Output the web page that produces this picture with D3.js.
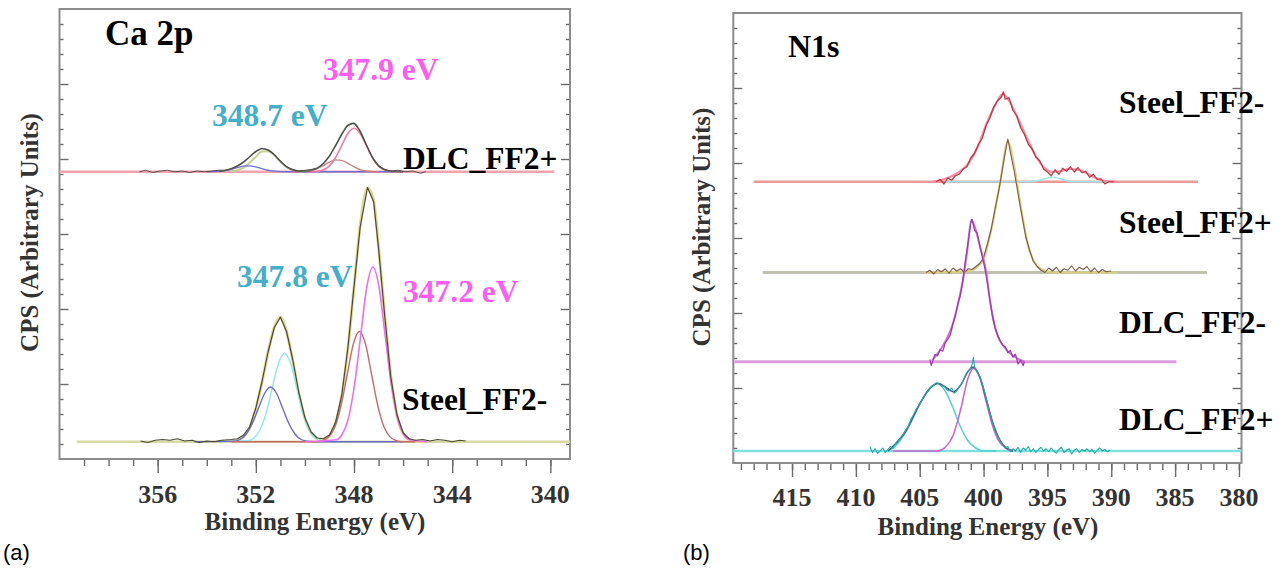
<!DOCTYPE html>
<html><head><meta charset="utf-8">
<script src="https://cdn.jsdelivr.net/npm/d3@7"></script>
<style>
body{margin:0;background:#fff;}
</style></head><body>
<svg id="chart" width="1285" height="573"></svg>
<script>
// ================= DATA =================
// Panel (a): Ca 2p
const caXMajor = [356, 352, 348, 344, 340];
const caXMinor = [359,358,357,356,355,354,353,352,351,350,349,348,347,346,345,344,343,342,341,340];
const yMajor = [1, 2, 3, 4, 5];
const yMinor = [0.2,0.4,0.6,0.8,1.2,1.4,1.6,1.8,2.2,2.4,2.6,2.8,3.2,3.4,3.6,3.8,4.2,4.4,4.6,4.8,5.2,5.4,5.6,5.8];

const caDlcOffset = 3.83;
const caSteelOffset = 0.23;
const caDlcBaseRange = [360, 339.84];
const caSteelBaseRange = [359.3, 339.2];

// DLC_FF2+ (Ca 2p) – fitted components and envelope (intensity above baseline)
const caDlcBlue = [[354.0,0],[353.5,.005],[353.25,.015],[353.0,.033],[352.75,.056],[352.5,.076],[352.25,.079],[352.0,.064],[351.75,.041],[351.5,.02],[351.25,.008],[351.0,.002],[350.5,0],[346.0,0]];
const caDlcOlive = [[353.0,.006],[352.75,.02],[352.5,.055],[352.25,.12],[352.0,.20],[351.75,.27],[351.5,.274],[351.25,.22],[351.0,.136],[350.75,.066],[350.5,.025],[350.25,.007],[350.0,0]];
const caDlcRed = [[350.5,0],[350.0,.005],[349.75,.016],[349.5,.04],[349.25,.082],[349.0,.129],[348.75,.158],[348.5,.151],[348.25,.112],[348.0,.065],[347.75,.029],[347.5,.01],[347.25,.003],[347.0,0]];
const caDlcPink = [[350.0,0],[349.5,.006],[349.25,.026],[349.0,.078],[348.75,.19],[348.5,.35],[348.25,.51],[348.0,.58],[347.75,.51],[347.5,.35],[347.25,.19],[347.0,.078],[346.75,.026],[346.5,.006],[346.0,0]];
const caDlcEnv = [[353.5,.005],[353.25,.016],[353.0,.04],[352.75,.076],[352.5,.13],[352.25,.20],[352.0,.27],[351.75,.31],[351.5,.29],[351.25,.23],[351.0,.14],[350.75,.066],[350.5,.025],[350.25,.007],[350.0,.005],[349.75,.018],[349.5,.046],[349.25,.11],[349.0,.21],[348.75,.35],[348.5,.50],[348.25,.62],[348.0,.645],[347.75,.54],[347.5,.36],[347.25,.19],[347.0,.078],[346.75,.026],[346.5,.006],[346.0,0]];
const caDlcData = [[356.75,0],[356.5,.02],[356.2,-.01],[355.9,.01],[355.6,.02],[355.3,0],[355.0,.01],[354.7,-.01],[354.4,.01],[354.1,0],[353.8,.01],[353.5,.02],[353.25,.02],[353.0,.04],[352.75,.08],[352.5,.13],[352.25,.2],[352.0,.27],[351.75,.31],[351.5,.29],[351.25,.23],[351.0,.14],[350.75,.07],[350.5,.03],[350.25,.01],[350.0,.02],[349.75,.03],[349.5,.05],[349.25,.11],[349.0,.21],[348.75,.35],[348.5,.5],[348.25,.62],[348.0,.65],[347.75,.54],[347.5,.36],[347.25,.19],[347.0,.08],[346.75,.03],[346.5,.01],[346.2,.02],[345.9,0],[345.6,.01],[345.3,-.02],[345.07,0]];

// Steel_FF2- (Ca 2p)
const caSteelCyan = [[353.5,0],[352.33,.013],[352.08,.05],[351.83,.16],[351.58,.38],[351.33,.72],[351.08,1.04],[350.83,1.18],[350.58,1.04],[350.33,.72],[350.08,.38],[349.83,.16],[349.58,.05],[349.33,.013],[348.5,0]];
const caSteelBlue = [[354.5,0],[352.9,.008],[352.65,.03],[352.4,.10],[352.15,.24],[351.9,.44],[351.65,.64],[351.4,.73],[351.15,.64],[350.9,.44],[350.65,.24],[350.4,.10],[350.15,.03],[349.9,.008],[349.5,0],[346.0,0]];
const caSteelRed = [[353.0,0],[349.5,0],[349.28,.016],[349.03,.065],[348.78,.20],[348.53,.48],[348.28,.89],[348.03,1.30],[347.78,1.47],[347.53,1.30],[347.28,.89],[347.03,.48],[346.78,.20],[346.53,.065],[346.28,.016],[346.0,0],[345.5,0]];
const caSteelMag = [[350.0,0],[348.73,.026],[348.48,.10],[348.23,.31],[347.98,.76],[347.73,1.41],[347.48,2.06],[347.23,2.33],[346.98,2.06],[346.73,1.41],[346.48,.76],[346.23,.31],[345.98,.10],[345.73,.026],[345.0,0]];
const caSteelEnv = [[353.5,0],[353.0,.005],[352.75,.02],[352.5,.07],[352.25,.19],[352.0,.44],[351.75,.79],[351.5,1.20],[351.25,1.53],[351.0,1.66],[350.75,1.47],[350.5,1.09],[350.25,.65],[350.0,.31],[349.75,.12],[349.5,.04],[349.25,.03],[349.0,.08],[348.75,.25],[348.5,.61],[348.25,1.24],[348.0,2.06],[347.75,2.88],[347.45,3.38],[347.2,3.22],[347.0,2.6],[346.75,1.7],[346.5,.88],[346.25,.36],[346.0,.11],[345.75,.03],[345.5,.006],[345.0,0]];
const caSteelData = [[356.7,.01],[356.4,-.01],[356.1,.02],[355.8,.03],[355.5,.02],[355.2,.04],[354.9,.01],[354.6,.02],[354.3,-.01],[354.0,.01],[353.7,0],[353.4,.02],[353.0,.03],[352.75,.04],[352.5,.09],[352.25,.2],[352.0,.45],[351.75,.8],[351.5,1.2],[351.25,1.52],[351.0,1.66],[350.75,1.47],[350.5,1.1],[350.25,.66],[350.0,.32],[349.75,.13],[349.5,.05],[349.25,.04],[349.0,.09],[348.75,.26],[348.5,.62],[348.25,1.25],[348.0,2.07],[347.75,2.86],[347.45,3.39],[347.2,3.2],[347.0,2.58],[346.75,1.68],[346.5,.86],[346.25,.36],[346.0,.12],[345.75,.04],[345.5,.02],[345.2,.03],[344.9,.01],[344.6,.03],[344.3,.02],[344.0,0],[343.7,.02],[343.45,.01]];

// Panel (b): N1s
const nXMajor = [415, 410, 405, 400, 395, 390, 385, 380];
const nXMinor = [419,418,417,416,415,414,413,412,411,410,409,408,407,406,405,404,403,402,401,400,399,398,397,396,395,394,393,392,391,390,389,388,387,386,385,384,383,382,381,380];

const nSteelMinusOffset = 3.75;
const nSteelPlusOffset = 2.54;
const nDlcMinusOffset = 1.35;
const nDlcPlusOffset = 0.16;
const nSteelMinusBaseRange = [418.0, 383.2];
const nSteelPlusBaseRange = [417.3, 382.5];
const nDlcMinusBaseRange = [419.5, 384.9];
const nDlcPlusBaseRange = [419.6, 379.8];

const nSteelMinusEnv = [[404.0,0],[403.0,.04],[402.0,.12],[401.3,.22],[400.5,.45],[399.7,.80],[399.0,1.05],[398.5,1.17],[398.0,1.08],[397.3,.84],[396.6,.58],[395.9,.34],[395.2,.18],[394.6,.13],[394.0,.14],[393.3,.17],[392.6,.16],[391.9,.11],[391.2,.05],[390.5,.01],[389.5,0]];
const nSteelMinusCyan = [[403.0,0],[396.5,0],[395.6,.02],[395.0,.05],[394.6,.06],[394.2,.05],[393.6,.02],[393.0,0],[390.0,0]];
const nSteelMinusData = [[403.7,0],[403.4,.03],[403.1,-.03],[402.8,.05],[402.5,.02],[402.2,.08],[401.9,.1],[401.6,.17],[401.3,.2],[401.0,.32],[400.7,.38],[400.4,.5],[400.1,.58],[399.8,.75],[399.5,.85],[399.2,1.0],[398.9,1.08],[398.6,1.13],[398.45,1.2],[398.3,1.1],[398.0,1.12],[397.7,.95],[397.4,.88],[397.1,.72],[396.8,.63],[396.5,.5],[396.2,.44],[395.9,.33],[395.6,.28],[395.3,.17],[395.0,.13],[394.7,.08],[394.4,.16],[394.1,.1],[393.8,.18],[393.5,.14],[393.2,.2],[392.9,.13],[392.6,.19],[392.3,.12],[392.0,.14],[391.7,.06],[391.4,.1],[391.1,.03],[390.8,.04],[390.5,-.03],[390.2,0],[389.8,0]];

const nSteelPlusEnv = [[404.5,0],[401.0,.02],[400.6,.06],[400.0,.18],[399.4,.57],[398.7,1.2],[398.1,1.75],[397.55,1.37],[397.0,.79],[396.5,.35],[396.0,.13],[395.3,.03],[394.5,0],[389.5,0]];
const nSteelPlusData = [[404.5,0],[404.2,.03],[403.9,-.02],[403.6,.04],[403.3,.01],[403.0,.05],[402.7,-.01],[402.4,.06],[402.1,.02],[401.8,.05],[401.5,0],[401.2,.05],[400.9,.04],[400.6,.08],[400.3,.12],[400.0,.2],[399.7,.38],[399.4,.58],[399.1,.85],[398.8,1.1],[398.5,1.4],[398.3,1.6],[398.1,1.78],[397.9,1.6],[397.6,1.35],[397.3,1.05],[397.0,.76],[396.7,.48],[396.4,.3],[396.1,.15],[395.8,.08],[395.5,.03],[395.2,0],[394.9,.06],[394.6,.02],[394.3,.07],[394.0,0],[393.7,.05],[393.4,.03],[393.1,.09],[392.8,.02],[392.5,.07],[392.2,.04],[391.9,.08],[391.6,.01],[391.3,.06],[391.0,0],[390.7,.04],[390.4,.01],[390.0,.02]];

const nDlcMinusEnv = [[404.0,.02],[403.4,.16],[402.9,.30],[402.4,.51],[401.9,.85],[401.6,1.1],[401.3,1.45],[400.95,1.89],[400.6,1.75],[400.3,1.55],[399.8,1.2],[399.5,.82],[399.0,.40],[398.2,.16],[397.2,.03],[396.8,0]];
const nDlcMinusData = [[404.2,.03],[404.1,-.05],[404.0,0],[403.8,.1],[403.6,.08],[403.4,.16],[403.2,.14],[403.0,.25],[402.8,.3],[402.6,.36],[402.4,.5],[402.2,.62],[402.0,.78],[401.8,.9],[401.6,1.12],[401.4,1.38],[401.2,1.6],[401.0,1.85],[400.9,1.9],[400.7,1.75],[400.5,1.72],[400.3,1.55],[400.1,1.4],[399.9,1.25],[399.7,1.05],[399.5,.82],[399.3,.6],[399.1,.45],[398.9,.36],[398.7,.28],[398.5,.22],[398.3,.2],[398.1,.12],[397.9,.15],[397.7,.06],[397.5,.1],[397.3,-.03],[397.1,.02],[396.9,-.05],[396.8,0]];

const nDlcPlusCyan = [[407.5,0],[407.0,.05],[406.0,.28],[405.0,.62],[404.2,.84],[403.6,.90],[403.0,.80],[402.4,.58],[401.8,.32],[401.2,.13],[400.6,.04],[400.0,0],[399.0,0]];
const nDlcPlusMag = [[407.1,0],[403.6,0],[403.0,.05],[402.4,.20],[401.8,.55],[401.2,.98],[400.8,1.10],[400.3,.98],[399.8,.66],[399.3,.34],[398.8,.13],[398.2,.03],[397.7,0]];
const nDlcPlusEnv = [[407.5,0],[407.11,.06],[406.04,.28],[405.0,.63],[404.22,.83],[403.57,.90],[402.78,.83],[402.39,.79],[401.87,.86],[401.21,1.06],[400.82,1.12],[400.30,.99],[399.77,.68],[399.26,.37],[398.73,.15],[398.21,.04],[397.7,0]];
const nDlcPlusData = [[408.9,.06],[408.7,-.02],[408.5,.03],[408.3,-.03],[408.1,0],[407.9,.04],[407.7,-.02],[407.5,.02],[407.3,.06],[407.1,.04],[406.9,.1],[406.7,.12],[406.5,.18],[406.3,.22],[406.1,.28],[405.9,.33],[405.7,.42],[405.5,.48],[405.3,.55],[405.1,.6],[404.9,.66],[404.7,.72],[404.5,.78],[404.3,.8],[404.1,.86],[403.9,.88],[403.7,.91],[403.5,.9],[403.3,.86],[403.1,.87],[402.9,.82],[402.7,.8],[402.5,.84],[402.3,.77],[402.1,.8],[401.9,.86],[401.7,.9],[401.5,.98],[401.3,1.05],[401.1,1.08],[400.9,1.15],[400.8,1.25],[400.7,1.12],[400.5,1.05],[400.3,1.0],[400.1,.9],[399.9,.78],[399.7,.64],[399.5,.5],[399.3,.38],[399.1,.27],[398.9,.2],[398.7,.13],[398.5,.08],[398.3,.04],[398.1,.06],[397.9,-.01],[397.7,.03],[397.5,0],[397.3,.05],[397.1,-.02],[396.9,.04],[396.7,.01],[396.5,.06],[396.3,-.01],[396.1,.03],[395.9,-.02],[395.7,.02],[395.5,.05],[395.3,0],[395.1,.03],[394.9,-.01],[394.7,.04],[394.5,0],[394.3,-.03],[394.1,.02],[393.9,.05],[393.7,-.02],[393.5,.01],[393.3,.03],[393.1,-.04],[392.9,.01],[392.7,.03],[392.5,-.02],[392.3,.02],[392.1,0],[391.9,.03],[391.7,-.01],[391.5,.02],[391.3,-.03],[391.1,.01],[390.9,.04],[390.7,0],[390.5,.02],[390.3,-.01],[390.1,.01]];

// ================= DRAWING =================
const SERIF = '"Liberation Serif","Times New Roman",Times,serif';
const SANS = '"Liberation Sans",Arial,Helvetica,sans-serif';
const svg = d3.select("#chart");

function text(txt, x, y, size, color, opts = {}) {
  const t = svg.append("text").attr("x", x).attr("y", y).text(txt)
    .attr("font-family", opts.family || SERIF)
    .attr("font-weight", opts.weight || "bold")
    .attr("font-size", size).attr("fill", color)
    .attr("text-anchor", opts.anchor || "start");
  if (opts.rotate) t.attr("transform", `rotate(${opts.rotate},${x},${y})`);
  return t;
}

function makePanel(cfg) {
  const x = d3.scaleLinear().domain(cfg.xDomain).range(cfg.xRange);
  const y = d3.scaleLinear().domain([0, 6]).range(cfg.yRange);
  const g = svg.append("g");
  const left = cfg.xRange[0], right = cfg.xRange[1], top = cfg.yRange[1], bottom = cfg.yRange[0];
  const tickStyle = s => { s.select(".domain").remove(); s.selectAll("line").attr("stroke", "#6a6a6a").attr("stroke-width", 1.4); };
  // bottom ticks (outward)
  g.append("g").attr("transform", `translate(0,${bottom})`)
    .call(d3.axisBottom(x).tickValues(cfg.xMinor).tickSize(7).tickFormat("")).call(tickStyle);
  g.append("g").attr("transform", `translate(0,${bottom})`)
    .call(d3.axisBottom(x).tickValues(cfg.xMajor).tickSize(14).tickFormat("")).call(tickStyle);
  // left/right ticks (inward)
  g.append("g").attr("transform", `translate(${left},0)`)
    .call(d3.axisLeft(y).tickValues(yMinor).tickSize(-4).tickFormat("")).call(tickStyle);
  g.append("g").attr("transform", `translate(${left},0)`)
    .call(d3.axisLeft(y).tickValues(yMajor).tickSize(-9).tickFormat("")).call(tickStyle);
  g.append("g").attr("transform", `translate(${right},0)`)
    .call(d3.axisRight(y).tickValues(yMinor).tickSize(-4).tickFormat("")).call(tickStyle);
  g.append("g").attr("transform", `translate(${right},0)`)
    .call(d3.axisRight(y).tickValues(yMajor).tickSize(-9).tickFormat("")).call(tickStyle);
  // tick labels
  g.selectAll("text.xl").data(cfg.xMajor).join("text").attr("class", "xl")
    .attr("x", d => x(d)).attr("y", bottom + cfg.labelDy)
    .attr("text-anchor", "middle").attr("font-family", SERIF).attr("font-weight", "bold")
    .attr("font-size", 26).attr("fill", "#333").text(d => d);
  // frame
  g.append("rect").attr("x", left).attr("y", top).attr("width", right - left).attr("height", bottom - top)
    .attr("fill", "none").attr("stroke", "#8c8c8c").attr("stroke-width", 2);
  const plot = g.append("g");
  const curve = (pts, off, color, w, type) => {
    const line = d3.line().x(d => x(d[0])).y(d => y(off + d[1]))
      .curve(type === "lin" ? d3.curveLinear : d3.curveMonotoneX);
    plot.append("path").attr("d", line(pts)).attr("fill", "none")
      .attr("stroke", color).attr("stroke-width", w).attr("stroke-linejoin", "round");
  };
  const base = (range, off, color, w) => curve([[range[0], 0], [range[1], 0]], off, color, w, "lin");
  return { x, y, curve, base };
}

// ----- Panel (a) -----
const A = makePanel({ xDomain: [360, 339.2], xRange: [59.5, 570], yRange: [459, 9],
  xMajor: caXMajor, xMinor: caXMinor, labelDy: 44 });
A.base(caDlcBaseRange, caDlcOffset, "#f2a4ac", 2.5);
A.base(caSteelBaseRange, caSteelOffset, "#d9d9a6", 2.5);
// DLC components
A.curve(caDlcOlive, caDlcOffset, "#c4d09a", 2);
A.curve(caDlcBlue, caDlcOffset, "#7070d8", 1.3);
A.curve(caDlcRed, caDlcOffset, "#c88080", 1.3);
A.curve(caDlcPink, caDlcOffset, "#f27aa6", 1.6);
A.curve(caDlcEnv, caDlcOffset, "#6a6a5a", 1.6);
A.curve(caDlcData, caDlcOffset, "#444", 0.9, "lin");
// Steel components
A.curve(caSteelEnv, caSteelOffset, "#e2d894", 3);
A.curve(caSteelCyan, caSteelOffset, "#8fe6ee", 1.4);
A.curve(caSteelBlue, caSteelOffset, "#6a6ad0", 1.4);
A.curve(caSteelRed, caSteelOffset, "#c86a6a", 1.4);
A.curve(caSteelMag, caSteelOffset, "#f06ef0", 1.6);
A.curve(caSteelData, caSteelOffset, "#4a4a3a", 1.2, "lin");

// ----- Panel (b) -----
const B = makePanel({ xDomain: [419.6, 379.8], xRange: [733.3, 1241.5], yRange: [463, 13],
  xMajor: nXMajor, xMinor: nXMinor, labelDy: 43 });
B.base(nSteelMinusBaseRange, nSteelMinusOffset, "#eb9a9a", 2.5);
B.base(nSteelPlusBaseRange, nSteelPlusOffset, "#c2c2b2", 3);
B.base(nDlcMinusBaseRange, nDlcMinusOffset, "#dc9cdc", 3);
B.base(nDlcPlusBaseRange, nDlcPlusOffset, "#7fe0e0", 2.5);
B.curve(nSteelMinusCyan, nSteelMinusOffset, "#9ee6e6", 1.5);
B.curve(nSteelMinusEnv, nSteelMinusOffset, "#f48aa4", 2.2);
B.curve(nSteelMinusData, nSteelMinusOffset, "#b8363a", 1.2, "lin");
B.curve(nSteelPlusEnv, nSteelPlusOffset, "#d8d080", 2.2);
B.curve(nSteelPlusData, nSteelPlusOffset, "#7d5a4a", 1.1, "lin");
B.curve(nDlcMinusEnv, nDlcMinusOffset, "#d070d0", 2);
B.curve(nDlcMinusData, nDlcMinusOffset, "#9a3aaa", 1.2, "lin");
B.curve(nDlcPlusCyan, nDlcPlusOffset, "#55d0d0", 1.5);
B.curve(nDlcPlusMag, nDlcPlusOffset, "#d060c8", 1.5);
B.curve(nDlcPlusEnv, nDlcPlusOffset, "#4a5a7a", 1.5);
B.curve(nDlcPlusData, nDlcPlusOffset, "#25a8a8", 1.1, "lin");

// ----- Texts -----
text("Ca 2p", 105, 45, 35, "#000");
text("347.9 eV", 323, 80, 31.5, "#ff5cf0");
text("348.7 eV", 212, 126, 31.5, "#45afca");
text("DLC_FF2+", 403, 169, 31.5, "#000");
text("347.8 eV", 237, 287, 31.5, "#45afca");
text("347.2 eV", 403, 302, 31.5, "#ff5cf0");
text("Steel_FF2-", 402, 410, 31.5, "#000");
text("Binding Energy (eV)", 315, 530, 25, "#333", { anchor: "middle" });
text("CPS (Arbitrary Units)", 38, 232.5, 25, "#333", { anchor: "middle", rotate: -90 });
text("(a)", 3, 560, 22, "#000", { family: SANS, weight: "normal" });

text("N1s", 788, 57, 32, "#000");
text("Steel_FF2-", 1119, 113, 31.5, "#000");
text("Steel_FF2+", 1119, 233, 31.5, "#000");
text("DLC_FF2-", 1119, 333, 31.5, "#000");
text("DLC_FF2+", 1119, 430, 31.5, "#000");
text("Binding Energy (eV)", 988, 535, 25, "#333", { anchor: "middle" });
text("CPS (Arbitrary Units)", 709.5, 227, 25, "#333", { anchor: "middle", rotate: -90 });
text("(b)", 683, 560, 22, "#000", { family: SANS, weight: "normal" });
</script>
</body></html>
